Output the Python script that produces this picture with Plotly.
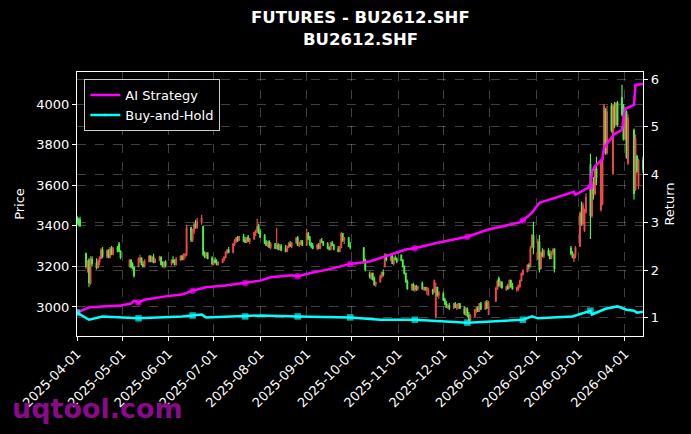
import pandas as pd
import plotly.graph_objects as go

# ---------------- data ----------------
holidays = ["2025-04-04", "2025-05-01", "2025-05-02", "2025-05-05", "2025-06-02",
            "2025-10-01", "2025-10-02", "2025-10-03", "2025-10-06", "2025-10-07", "2025-10-08",
            "2026-01-01", "2026-01-02",
            "2026-02-16", "2026-02-17", "2026-02-18", "2026-02-19", "2026-02-20", "2026-02-23",
            "2026-04-06"]
days = pd.bdate_range("2025-04-01", "2026-04-13")
days = [d for d in days if d.strftime("%Y-%m-%d") not in holidays]

opens = [
    # Apr 2025
    3440, 3425, 3430, 3262, 3200, 3230, 3120, 3235, 3215, 3195, 3225, 3240, 3280, 3250, 3275, 3245, 3285, 3260, 3290, 3310, 3275,
    # May
    3200, 3230, 3210, 3195, 3200, 3225, 3240, 3210, 3200, 3225, 3250, 3225, 3245, 3220, 3235, 3245, 3210, 3200, 3220,
    # Jun
    3215, 3230, 3220, 3210, 3235, 3250, 3235, 3255, 3260, 3390, 3330, 3375, 3405, 3395, 3420, 3395, 3260, 3250, 3265, 3240,
    # Jul
    3215, 3230, 3220, 3210, 3220, 3235, 3245, 3270, 3280, 3270, 3310, 3325, 3340, 3330, 3345, 3330, 3320, 3345, 3325, 3335, 3365, 3375, 3395,
    # Aug
    3370, 3350, 3320, 3305, 3320, 3295, 3310, 3290, 3305, 3285, 3300, 3285, 3275, 3295, 3310, 3300, 3320, 3340, 3305, 3315, 3325,
    # Sep
    3305, 3360, 3345, 3310, 3300, 3290, 3305, 3290, 3325, 3320, 3310, 3290, 3285, 3315, 3305, 3285, 3275, 3295, 3360, 3330, 3340, 3300,
    # Oct
    3290, 3230, 3160, 3140, 3165, 3140, 3115, 3125, 3150, 3170, 3200, 3255, 3235, 3250, 3215, 3240, 3235,
    # Nov
    3255, 3230, 3200, 3165, 3125, 3095, 3110, 3085, 3100, 3090, 3115, 3090, 3095, 3080, 3060, 3085, 3075, 2950, 3095, 3060,
    # Dec
    3065, 3035, 3015, 3000, 3005, 2995, 3015, 2995, 3010, 3015, 2990, 2965, 2990, 2960, 2935, 2955, 2985, 2995, 2980, 3015, 2990, 3020, 2995,
    # Jan 2026
    3030, 3090, 3140, 3105, 3120, 3085, 3100, 3095, 3130, 3100, 3085, 3090, 3100, 3130, 3160, 3175, 3205, 3200, 3300, 3350,
    # Feb
    3240, 3320, 3190, 3265, 3255, 3275, 3260, 3240, 3270, 3285, 3290, 3265, 3240, 3258,
    # Mar
    3300, 3460, 3410, 3380, 3470, 3700, 3450, 3600, 3560, 3680, 3480, 3510, 3770, 3970, 3760, 3990, 3660, 3990, 3900, 4005, 4030, 3990,
    # Apr
    3830, 3960, 3710, 3870, 3580, 3740, 3600, 3720,
]
highs = [
    3448, 3440, 3445, 3268, 3230, 3240, 3250, 3250, 3240, 3235, 3250, 3290, 3295, 3285, 3285, 3295, 3300, 3295, 3300, 3320, 3280,
    3235, 3235, 3220, 3200, 3245, 3258, 3245, 3225, 3235, 3255, 3255, 3250, 3262, 3240, 3252, 3250, 3225, 3225, 3230,
    3235, 3250, 3235, 3245, 3255, 3258, 3265, 3265, 3405, 3395, 3385, 3420, 3430, 3440, 3455, 3400, 3275, 3270, 3270, 3250,
    3235, 3245, 3235, 3225, 3240, 3250, 3275, 3285, 3295, 3315, 3335, 3345, 3350, 3350, 3360, 3345, 3345, 3355, 3340, 3370, 3380, 3435, 3410,
    3385, 3360, 3330, 3325, 3330, 3320, 3315, 3390, 3315, 3310, 3310, 3305, 3300, 3320, 3325, 3320, 3345, 3350, 3320, 3330, 3330,
    3385, 3370, 3350, 3320, 3315, 3310, 3315, 3335, 3340, 3325, 3320, 3300, 3320, 3325, 3310, 3300, 3300, 3370, 3365, 3345, 3345, 3320,
    3295, 3240, 3175, 3170, 3170, 3150, 3125, 3160, 3175, 3185, 3265, 3262, 3260, 3262, 3245, 3255, 3245,
    3260, 3235, 3205, 3170, 3135, 3115, 3120, 3110, 3110, 3105, 3125, 3100, 3100, 3100, 3095, 3090, 3135, 3120, 3100, 3080,
    3075, 3045, 3030, 3015, 3020, 3020, 3025, 3015, 3020, 3020, 3005, 3000, 2998, 2975, 2965, 2990, 3000, 3005, 3020, 3025, 3030, 3035, 3030,
    3100, 3135, 3150, 3130, 3128, 3105, 3115, 3135, 3135, 3120, 3100, 3110, 3135, 3170, 3185, 3210, 3215, 3300, 3360, 3420,
    3335, 3355, 3275, 3290, 3285, 3290, 3280, 3275, 3290, 3290, 3300, 3275, 3262, 3300,
    3470, 3520, 3515, 3485, 3560, 3755, 3620, 3640, 3700, 3740, 3730, 3740, 4000, 3980, 3990, 4005, 4000, 4010, 4010, 4015, 4095, 4000,
    3975, 3970, 3950, 3880, 3850, 3750, 3730, 3740,
]
lows = [
    3405, 3400, 3395, 3190, 3170, 3100, 3110, 3200, 3185, 3190, 3205, 3235, 3240, 3240, 3240, 3240, 3255, 3255, 3270, 3270, 3235,
    3195, 3190, 3185, 3145, 3195, 3215, 3205, 3195, 3195, 3220, 3220, 3220, 3215, 3215, 3225, 3205, 3195, 3190, 3195,
    3205, 3215, 3205, 3205, 3225, 3230, 3230, 3240, 3250, 3320, 3320, 3360, 3385, 3385, 3405, 3250, 3240, 3240, 3235, 3205,
    3205, 3215, 3205, 3205, 3215, 3225, 3240, 3260, 3265, 3265, 3300, 3315, 3320, 3325, 3320, 3315, 3315, 3320, 3310, 3330, 3350, 3365, 3360,
    3340, 3310, 3300, 3295, 3290, 3285, 3285, 3285, 3280, 3280, 3275, 3270, 3270, 3290, 3295, 3290, 3310, 3300, 3295, 3305, 3300,
    3300, 3330, 3300, 3290, 3285, 3280, 3285, 3285, 3315, 3300, 3285, 3278, 3280, 3300, 3280, 3270, 3270, 3290, 3320, 3310, 3295, 3285,
    3215, 3175, 3140, 3135, 3130, 3105, 3100, 3120, 3140, 3150, 3195, 3225, 3225, 3210, 3205, 3230, 3215,
    3225, 3195, 3160, 3120, 3085, 3080, 3080, 3075, 3080, 3080, 3085, 3080, 3080, 3060, 3055, 3060, 3070, 2945, 3050, 3040,
    3030, 3010, 2995, 2990, 2985, 2990, 2995, 2985, 2990, 2990, 2960, 2955, 2950, 2925, 2930, 2950, 2970, 2975, 2975, 2985, 2985, 2990, 2960,
    3025, 3085, 3100, 3095, 3090, 3080, 3085, 3090, 3095, 3085, 3075, 3080, 3095, 3125, 3155, 3170, 3185, 3195, 3290, 3260,
    3230, 3170, 3185, 3245, 3240, 3250, 3235, 3235, 3255, 3170, 3255, 3240, 3222, 3240,
    3295, 3400, 3405, 3370, 3460, 3335, 3440, 3530, 3550, 3600, 3470, 3500, 3760, 3750, 3750, 3860, 3650, 3880, 3890, 3890, 3940, 3820,
    3820, 3730, 3700, 3530, 3570, 3660, 3580, 3660,
]
closes = [
    3415, 3410, 3400, 3200, 3215, 3120, 3235, 3215, 3195, 3225, 3240, 3280, 3250, 3275, 3245, 3285, 3260, 3290, 3280, 3275, 3245,
    3230, 3200, 3195, 3155, 3235, 3240, 3210, 3200, 3225, 3250, 3225, 3245, 3220, 3235, 3245, 3210, 3200, 3220, 3205,
    3230, 3220, 3210, 3235, 3250, 3235, 3255, 3260, 3390, 3330, 3375, 3405, 3395, 3420, 3435, 3260, 3250, 3265, 3240, 3215,
    3230, 3220, 3210, 3220, 3235, 3245, 3270, 3280, 3270, 3310, 3325, 3340, 3330, 3345, 3325, 3320, 3340, 3325, 3335, 3365, 3375, 3395, 3370,
    3345, 3315, 3305, 3320, 3295, 3310, 3290, 3305, 3285, 3300, 3280, 3275, 3295, 3310, 3300, 3315, 3340, 3305, 3315, 3325, 3305,
    3360, 3340, 3310, 3300, 3290, 3305, 3290, 3325, 3320, 3310, 3290, 3285, 3315, 3305, 3285, 3275, 3295, 3360, 3330, 3340, 3300, 3295,
    3225, 3185, 3150, 3165, 3135, 3110, 3120, 3150, 3170, 3160, 3255, 3235, 3250, 3215, 3240, 3235, 3225,
    3230, 3200, 3165, 3125, 3090, 3110, 3085, 3100, 3090, 3100, 3090, 3095, 3085, 3095, 3085, 3070, 3128, 3095, 3060, 3070,
    3035, 3015, 3000, 3005, 2995, 3015, 3000, 3010, 3015, 2995, 2970, 2990, 2960, 2935, 2955, 2985, 2990, 2980, 3015, 2990, 3020, 2995, 3025,
    3090, 3125, 3105, 3120, 3095, 3100, 3090, 3130, 3100, 3090, 3095, 3105, 3130, 3165, 3180, 3205, 3200, 3290, 3350, 3295,
    3320, 3185, 3265, 3255, 3275, 3260, 3240, 3270, 3280, 3190, 3265, 3250, 3258, 3290,
    3460, 3420, 3500, 3470, 3540, 3450, 3600, 3560, 3680, 3640, 3720, 3730, 3990, 3760, 3960, 3870, 3990, 3900, 4000, 3900, 3950, 3830,
    3960, 3740, 3930, 3560, 3830, 3670, 3720, 3680,
]

strat_dates = ["2025-04-01", "2025-04-09", "2025-04-18", "2025-04-30", "2025-05-07", "2025-05-09", "2025-05-12",
               "2025-05-16", "2025-05-30", "2025-06-10", "2025-06-17", "2025-06-26", "2025-07-09", "2025-07-22",
               "2025-08-01", "2025-08-08", "2025-08-22", "2025-08-26", "2025-09-05", "2025-09-15", "2025-09-25",
               "2025-09-30", "2025-10-13", "2025-10-21", "2025-11-06", "2025-11-12", "2025-11-28", "2025-12-17",
               "2025-12-31", "2026-01-21", "2026-01-23", "2026-01-29", "2026-02-03", "2026-02-06", "2026-02-12",
               "2026-02-26", "2026-02-27", "2026-03-06", "2026-03-09", "2026-03-10", "2026-03-12", "2026-03-17",
               "2026-03-18", "2026-03-20", "2026-03-25", "2026-03-30", "2026-04-01", "2026-04-07", "2026-04-08",
               "2026-04-13"]
strat_vals = [1.11, 1.22, 1.24, 1.26, 1.30, 1.36, 1.32,
              1.38, 1.45, 1.49, 1.57, 1.64, 1.68, 1.73,
              1.78, 1.85, 1.89, 1.87, 1.95, 2.01, 2.10,
              2.13, 2.18, 2.26, 2.43, 2.46, 2.58, 2.70,
              2.85, 3.00, 3.04, 3.20, 3.41, 3.44, 3.50,
              3.64, 3.58, 3.70, 3.75, 4.06, 4.17, 4.33,
              4.56, 4.65, 4.85, 4.94, 5.38, 5.46, 5.88,
              5.90]

bh_dates = ["2025-04-01", "2025-04-09", "2025-04-18", "2025-05-12", "2025-06-10", "2025-06-17", "2025-06-23",
            "2025-06-26", "2025-07-22", "2025-08-01", "2025-08-26", "2025-09-30", "2025-10-20", "2025-11-12",
            "2025-12-17", "2026-01-23", "2026-01-29", "2026-02-02", "2026-02-25", "2026-03-06", "2026-03-09",
            "2026-03-10", "2026-03-19", "2026-03-27", "2026-04-02", "2026-04-07", "2026-04-09", "2026-04-13"]
bh_vals = [1.11, 0.96, 1.03, 0.99, 1.03, 1.05, 1.07,
           1.01, 1.03, 1.05, 1.03, 1.01, 0.96, 0.96,
           0.90, 0.96, 1.03, 0.99, 1.03, 1.12, 1.15,
           1.07, 1.19, 1.24, 1.17, 1.15, 1.11, 1.13]

x_ticks = ["2025-04-01", "2025-05-01", "2025-06-01", "2025-07-01", "2025-08-01", "2025-09-01", "2025-10-01",
           "2025-11-01", "2025-12-01", "2026-01-01", "2026-02-01", "2026-03-01", "2026-04-01"]

title_lines = ["FUTURES - BU2612.SHF", "BU2612.SHF"]
watermark = "uqtool.com"

# ---------------- figure ----------------
FONT = "DejaVu Sans"
W, H = 691, 434
ML, MR, MT, MB = 77, 48, 72, 98
PW, PH = W - ML - MR, H - MT - MB


def px_x(x):
    return (x - ML) / PW


def px_y(y):
    return (H - MB - y) / PH


marker_days = set(d.strftime("%Y-%m-%d") for d in days[::25])


def msizes(dates):
    return [6.5 if d in marker_days else 0 for d in dates]


fig = go.Figure()
fig.add_trace(go.Candlestick(
    x=days, open=opens, high=highs, low=lows, close=closes,
    increasing=dict(line=dict(color="#f04848", width=1.2), fillcolor="#f04848"),
    decreasing=dict(line=dict(color="#48f048", width=1.2), fillcolor="#48f048"),
    showlegend=False, yaxis="y"))
fig.add_trace(go.Scatter(
    x=strat_dates, y=strat_vals, name="AI Strategy", mode="lines+markers",
    line=dict(color="#ff00ff", width=2.5),
    marker=dict(symbol="circle", size=msizes(strat_dates), color="#ff00ff", line=dict(width=0)),
    yaxis="y2"))
fig.add_trace(go.Scatter(
    x=bh_dates, y=bh_vals, name="Buy-and-Hold", mode="lines+markers",
    line=dict(color="#00ffff", width=2.5),
    marker=dict(symbol="square", size=msizes(bh_dates), color="#00ffff", line=dict(width=0)),
    yaxis="y2"))

grid = "rgba(255,255,255,0.25)"
annotations = [
    dict(text="<b>%s</b>" % title_lines[0], x=0.5, y=px_y(18), xref="paper", yref="paper",
         xanchor="center", yanchor="middle", showarrow=False,
         font=dict(family=FONT, size=16.5, color="white")),
    dict(text="<b>%s</b>" % title_lines[1], x=0.5, y=px_y(39), xref="paper", yref="paper",
         xanchor="center", yanchor="middle", showarrow=False,
         font=dict(family=FONT, size=16.5, color="white")),
    dict(text="<b>%s</b>" % watermark, x=px_x(10), y=px_y(409), xref="paper", yref="paper",
         xanchor="left", yanchor="middle", showarrow=False,
         font=dict(family=FONT, size=27, color="#8a0a8a")),
]

fig.update_layout(
    width=W, height=H,
    paper_bgcolor="black", plot_bgcolor="black",
    margin=dict(l=ML, r=MR, t=MT, b=MB),
    font=dict(family=FONT, color="white", size=13),
    xaxis=dict(type="date", range=["2025-04-01", "2026-04-13"], rangeslider=dict(visible=False),
               tickvals=x_ticks, ticktext=x_ticks, tickangle=-45,
               showgrid=True, gridcolor=grid, griddash="dash", gridwidth=0.8,
               showline=True, linecolor="white", linewidth=1.2, mirror=True,
               ticks="outside", tickcolor="white", ticklen=4,
               tickfont=dict(size=13, color="white"), zeroline=False),
    yaxis=dict(range=[2857, 4158], tickvals=[3000, 3200, 3400, 3600, 3800, 4000],
               title=dict(text="Price", font=dict(size=13, color="white"), standoff=8),
               showgrid=True, gridcolor=grid, griddash="dash", gridwidth=0.8,
               showline=True, linecolor="white", linewidth=1.2,
               ticks="outside", tickcolor="white", ticklen=4, zeroline=False),
    yaxis2=dict(range=[0.62, 6.15], tickvals=[1, 2, 3, 4, 5, 6], overlaying="y", side="right",
                title=dict(text="Return", font=dict(size=13, color="white"), standoff=6),
                showgrid=True, gridcolor=grid, griddash="dash", gridwidth=0.8,
                showline=True, linecolor="white", linewidth=1.2,
                ticks="outside", tickcolor="white", ticklen=4, zeroline=False),
    legend=dict(x=0.013, y=0.973, xanchor="left", yanchor="top",
                bgcolor="black", bordercolor="#cccccc", borderwidth=1,
                font=dict(size=13, color="white"), itemwidth=30),
    annotations=annotations,
)

fig.write_html("out.html")
